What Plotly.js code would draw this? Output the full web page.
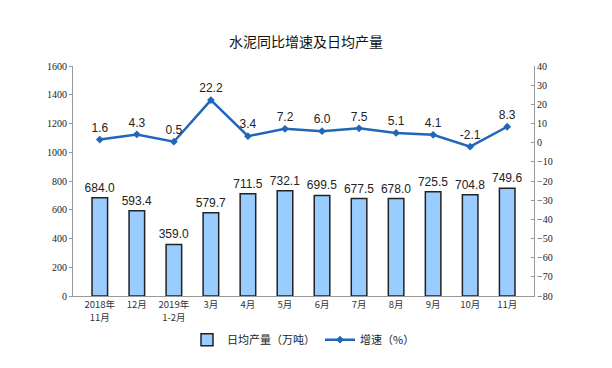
<!DOCTYPE html>
<html><head><meta charset="utf-8">
<script src="https://cdn.plot.ly/plotly-3.0.1.min.js"></script>
<style>body{margin:0;background:#fff}#c{width:612px;height:368px}</style>
</head><body><div id="c"></div>
<script>
const categories = ["2018年<br>11月","12月","2019年<br>1-2月","3月","4月","5月","6月","7月","8月","9月","10月","11月"];
const output = [684.0,593.4,359.0,579.7,711.5,732.1,699.5,677.5,678.0,725.5,704.8,749.6];
const growth = [1.6,4.3,0.5,22.2,3.4,7.2,6.0,7.5,5.1,4.1,-2.1,8.3];
const leftTicks = [0,200,400,600,800,1000,1200,1400,1600];
const rightTicks = [40,30,20,10,0,-10,-20,-30,-40,-50,-60,-70,-80];

const bar = {
  type:'bar', x:categories, y:output, name:'日均产量（万吨）',
  marker:{color:'#99ccff', line:{color:'#222', width:1.5}},
  width:0.42,
  text:output.map(v=>v.toFixed(1)), textposition:'outside', cliponaxis:false,
  constraintext:'none', textangle:0,
  textfont:{family:'Liberation Sans, Arial', size:12, color:'#222'}
};
const line = {
  type:'scatter', mode:'lines+markers+text', x:categories, y:growth, yaxis:'y2', name:'增速（%）',
  line:{color:'#2166b8', width:2.5}, marker:{color:'#2166b8', size:6, symbol:'diamond'},
  text:growth.map(v=>v.toFixed(1)), textposition:'top center', cliponaxis:false,
  textfont:{family:'Liberation Sans, Arial', size:12, color:'#222'}
};
const tickFont = {family:'Liberation Serif, Times New Roman', size:10, color:'#222'};
const layout = {
  width:612, height:368,
  margin:{l:73, r:78, t:66, b:72},
  paper_bgcolor:'#fff', plot_bgcolor:'#fff',
  title:{text:'水泥同比增速及日均产量', x:0.5, xanchor:'center', y:0.885, yanchor:'middle',
    font:{family:'Noto Sans CJK SC', size:14, color:'#111'}},
  bargap:0.58,
  uniformtext:{mode:false},
  showlegend:true,
  legend:{orientation:'h', x:0.5, xanchor:'center', y:-0.19, yanchor:'middle',
    font:{family:'Noto Sans CJK SC', size:11, color:'#222'}, traceorder:'normal'},
  xaxis:{type:'category', showline:true, linecolor:'#999', linewidth:1, ticks:'',
    tickfont:{family:'Noto Sans CJK SC', size:9.5, color:'#333'}, showgrid:false, zeroline:false},
  yaxis:{range:[0,1600], tickvals:leftTicks, showline:true, linecolor:'#999', linewidth:1,
    ticks:'outside', ticklen:3, tickcolor:'#999', showgrid:false, zeroline:false, tickfont:tickFont},
  yaxis2:{range:[-80,40], tickvals:rightTicks, overlaying:'y', side:'right', showline:true,
    linecolor:'#999', linewidth:1, ticks:'inside', ticklen:3, tickcolor:'#999',
    showgrid:false, zeroline:false, tickfont:tickFont}
};
Plotly.newPlot('c',[bar,line],layout,{displayModeBar:false, staticPlot:true});
</script></body></html>
